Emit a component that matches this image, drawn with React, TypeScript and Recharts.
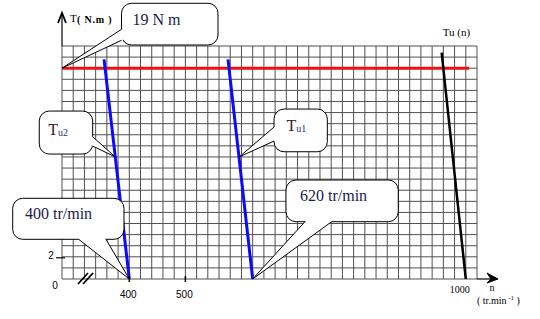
import { LineChart, Line, XAxis, YAxis, CartesianGrid, ReferenceDot } from 'recharts';

// grid every 20 tr/min and every 1 N.m
const gridSpeeds = Array.from({ length: 38 }, (_, i) => 280 + i * 20);
const gridTorques = Array.from({ length: 22 }, (_, i) => i);
const speedLabels = [400, 500, 1000];
const torqueLabels = [2];

const loadTorque = 19;
const loadSpeeds = [280, 1006];
const tu2Speeds = [355, 400];
const tu2Torques = [19.8, 0];
const tu1Speeds = [576, 620];
const tu1Torques = [19.8, 0];
const tuSpeeds = [957, 1000];
const tuTorques = [20.4, 0];

const redData = loadSpeeds.map((n) => ({ n, T: loadTorque }));
const tu2Data = tu2Speeds.map((n, i) => ({ n, T: tu2Torques[i] }));
const tu1Data = tu1Speeds.map((n, i) => ({ n, T: tu1Torques[i] }));
const tuData = tuSpeeds.map((n, i) => ({ n, T: tuTorques[i] }));

const SERIF = { fontFamily: "'Liberation Serif', 'Times New Roman', serif" };
const SANS = { fontFamily: "'Liberation Sans', Arial, sans-serif" };
const INK = '#1a1a4d';

type Box = { dx: number; dy: number; w: number; h: number; tail: [number, number][] };

const makeCallout = (box: Box, content: (x: number, y: number) => any) => (props: any) => {
  const { cx, cy } = props;
  const bx = cx + box.dx;
  const by = cy + box.dy;
  const ccx = bx + box.w / 2;
  const ccy = by + box.h / 2;
  const pts = box.tail.map(([tx, ty]) => [bx + tx, by + ty]);
  const inward = pts.map(([px, py]) => {
    const vx = ccx - px, vy = ccy - py;
    const l = Math.hypot(vx, vy) || 1;
    return [px + (vx / l) * 3, py + (vy / l) * 3];
  });
  const poly = [inward[0], pts[0], [cx, cy], pts[1], inward[1]].map((p) => p.join(',')).join(' ');
  const line = [pts[0], [cx, cy], pts[1]].map((p) => p.join(',')).join(' ');
  return (
    <g>
      <rect x={bx} y={by} width={box.w} height={box.h} rx={10} fill="#fff" stroke="#000" strokeWidth={1} />
      <polygon points={poly} fill="#fff" stroke="none" />
      <polyline points={line} fill="none" stroke="#000" strokeWidth={1} />
      {content(bx, by)}
    </g>
  );
};

const plainText = (label: string, tx: number, ty: number) => (x: number, y: number) => (
  <text x={x + tx} y={y + ty} style={SERIF} fontSize={16} fill={INK}>{label}</text>
);

const tuText = (sub: string, tx: number, ty: number) => (x: number, y: number) => (
  <text x={x + tx} y={y + ty} style={SERIF} fontSize={16} fill="#4a1414">
    T<tspan fontSize={10} dy={1} fill="#1c2f80">{sub}</tspan>
  </text>
);

const XTick = ({ x, y, payload }: any) => {
  const v = payload.value;
  if (!speedLabels.includes(v)) return <g />;
  if (v === 1000) {
    return (
      <text x={x - 6} y={y + 14} textAnchor="middle" style={SERIF} fontSize={10} fill="#000">{v}</text>
    );
  }
  return (
    <g>
      <line x1={x} y1={y - 3} x2={x} y2={y + 3} stroke="#000" strokeWidth={1.5} />
      <text x={x - 1} y={y + 19} textAnchor="middle" style={SANS} fontSize={10} fill="#000">{v}</text>
    </g>
  );
};

const YTick = ({ x, y, payload }: any) => {
  const v = payload.value;
  if (!torqueLabels.includes(v)) return <g />;
  return (
    <g>
      <line x1={x - 6} y1={y + 1} x2={x + 3} y2={y + 1} stroke="#000" strokeWidth={1.2} />
      <text x={x - 11} y={y + 2} textAnchor="middle" style={SANS} fontSize={10} fill="#000">{v}</text>
    </g>
  );
};

const OriginMarks = ({ cx, cy }: any) => (
  <g>
    <text x={cx - 7} y={cy + 10} textAnchor="middle" style={SANS} fontSize={10} fill="#000">0</text>
    <line x1={cx + 16} y1={cy + 5} x2={cx + 26} y2={cy - 6} stroke="#000" strokeWidth={1.8} />
    <line x1={cx + 21} y1={cy + 5} x2={cx + 31} y2={cy - 6} stroke="#000" strokeWidth={1.8} />
  </g>
);

const YArrow = ({ cx, cy }: any) => (
  <g>
    <line x1={cx} y1={cy} x2={cx} y2={cy - 33} stroke="#000" strokeWidth={1.2} />
    <polyline points={`${cx - 4},${cy - 23} ${cx},${cy - 33} ${cx + 4},${cy - 23}`} fill="none" stroke="#000" strokeWidth={1.8} />
    <text x={cx + 8} y={cy - 24} style={SERIF} fontSize={11} fill="#000">T</text>
    <text x={cx + 15} y={cy - 23} style={SERIF} fontSize={10} fontWeight="bold" letterSpacing={0.8} fill="#000">( N.m )</text>
  </g>
);

const XArrow = ({ cx, cy }: any) => (
  <g>
    <line x1={cx} y1={cy} x2={cx + 20} y2={cy} stroke="#000" strokeWidth={1.2} />
    <path d={`M${cx + 10},${cy - 6} L${cx + 21},${cy} L${cx + 10},${cy + 4} L${cx + 14},${cy} Z`} fill="#000" stroke="#000" strokeWidth={1} />
    <text x={cx + 15} y={cy + 12} textAnchor="middle" style={SERIF} fontSize={10} fill="#000">n</text>
    <text x={cx} y={cy + 25} style={SERIF} fontSize={10} fill="#000">
      ( tr.min<tspan dy={-4} fontSize={7}> -1</tspan><tspan dy={4}> )</tspan>
    </text>
  </g>
);

const TuLabel = ({ cx, cy }: any) => (
  <text x={cx + 1} y={cy - 17} style={SERIF} fontSize={11} fill="#000">Tu (n)</text>
);

const callout19 = makeCallout({ dx: 59.5, dy: -64.9, w: 96.5, h: 41.7, tail: [[0, 26], [0, 37]] }, plainText('19 N m', 11, 22));
const calloutTu2 = makeCallout({ dx: -76, dy: -45.9, w: 53.4, h: 43, tail: [[53.4, 25.7], [53.4, 35]] }, tuText('u2', 9, 24));
const calloutTu1 = makeCallout({ dx: 34.8, dy: -47.9, w: 53.3, h: 42.7, tail: [[0, 18], [0, 32]] }, tuText('u1', 12.5, 22));
const callout400 = makeCallout({ dx: -116.6, dy: -80.7, w: 111.3, h: 41, tail: [[66, 41], [93.3, 41]] }, plainText('400 tr/min', 12.3, 20.7));
const callout620 = makeCallout({ dx: 33.3, dy: -99, w: 112.3, h: 41.7, tail: [[19, 41.7], [45.7, 41.7]] }, plainText('620 tr/min', 14, 20.7));

export default function App() {
  return (
    <div style={{ position: 'absolute', left: 0, top: 0, background: '#fff' }}>
      <LineChart width={540} height={319} margin={{ top: 46, left: 61, right: 63, bottom: 39 }}>
        <CartesianGrid stroke="#505050" strokeWidth={1} />
        <XAxis dataKey="n" type="number" domain={[280, 1020]} ticks={gridSpeeds} interval={0}
          allowDataOverflow height={1} tickSize={0} tickMargin={0} axisLine={false} tick={<XTick />} />
        <YAxis dataKey="T" type="number" domain={[0, 21]} ticks={gridTorques} interval={0}
          allowDataOverflow width={1} tickSize={0} tickMargin={0} axisLine={false} tick={<YTick />} />
        <Line data={redData} dataKey="T" type="linear" stroke="#ee1111" strokeWidth={3} dot={false} isAnimationActive={false} />
        <Line data={tu2Data} dataKey="T" type="linear" stroke="#0a0aff" strokeWidth={3} dot={false} isAnimationActive={false} />
        <Line data={tu1Data} dataKey="T" type="linear" stroke="#0a0aff" strokeWidth={3} dot={false} isAnimationActive={false} />
        <Line data={tuData} dataKey="T" type="linear" stroke="#000" strokeWidth={2.5} dot={false} isAnimationActive={false} />
        <ReferenceDot x={280} y={0} ifOverflow="visible" shape={OriginMarks} />
        <ReferenceDot x={280} y={21} ifOverflow="visible" shape={YArrow} />
        <ReferenceDot x={1020} y={0} ifOverflow="visible" shape={XArrow} />
        <ReferenceDot x={tuSpeeds[0]} y={tuTorques[0]} ifOverflow="visible" shape={TuLabel} />
        <ReferenceDot x={280} y={loadTorque} ifOverflow="visible" shape={callout19} />
        <ReferenceDot x={375} y={11} ifOverflow="visible" shape={calloutTu2} />
        <ReferenceDot x={596} y={11} ifOverflow="visible" shape={calloutTu1} />
        <ReferenceDot x={tu2Speeds[1]} y={0} ifOverflow="visible" shape={callout400} />
        <ReferenceDot x={tu1Speeds[1]} y={0} ifOverflow="visible" shape={callout620} />
      </LineChart>
    </div>
  );
}
